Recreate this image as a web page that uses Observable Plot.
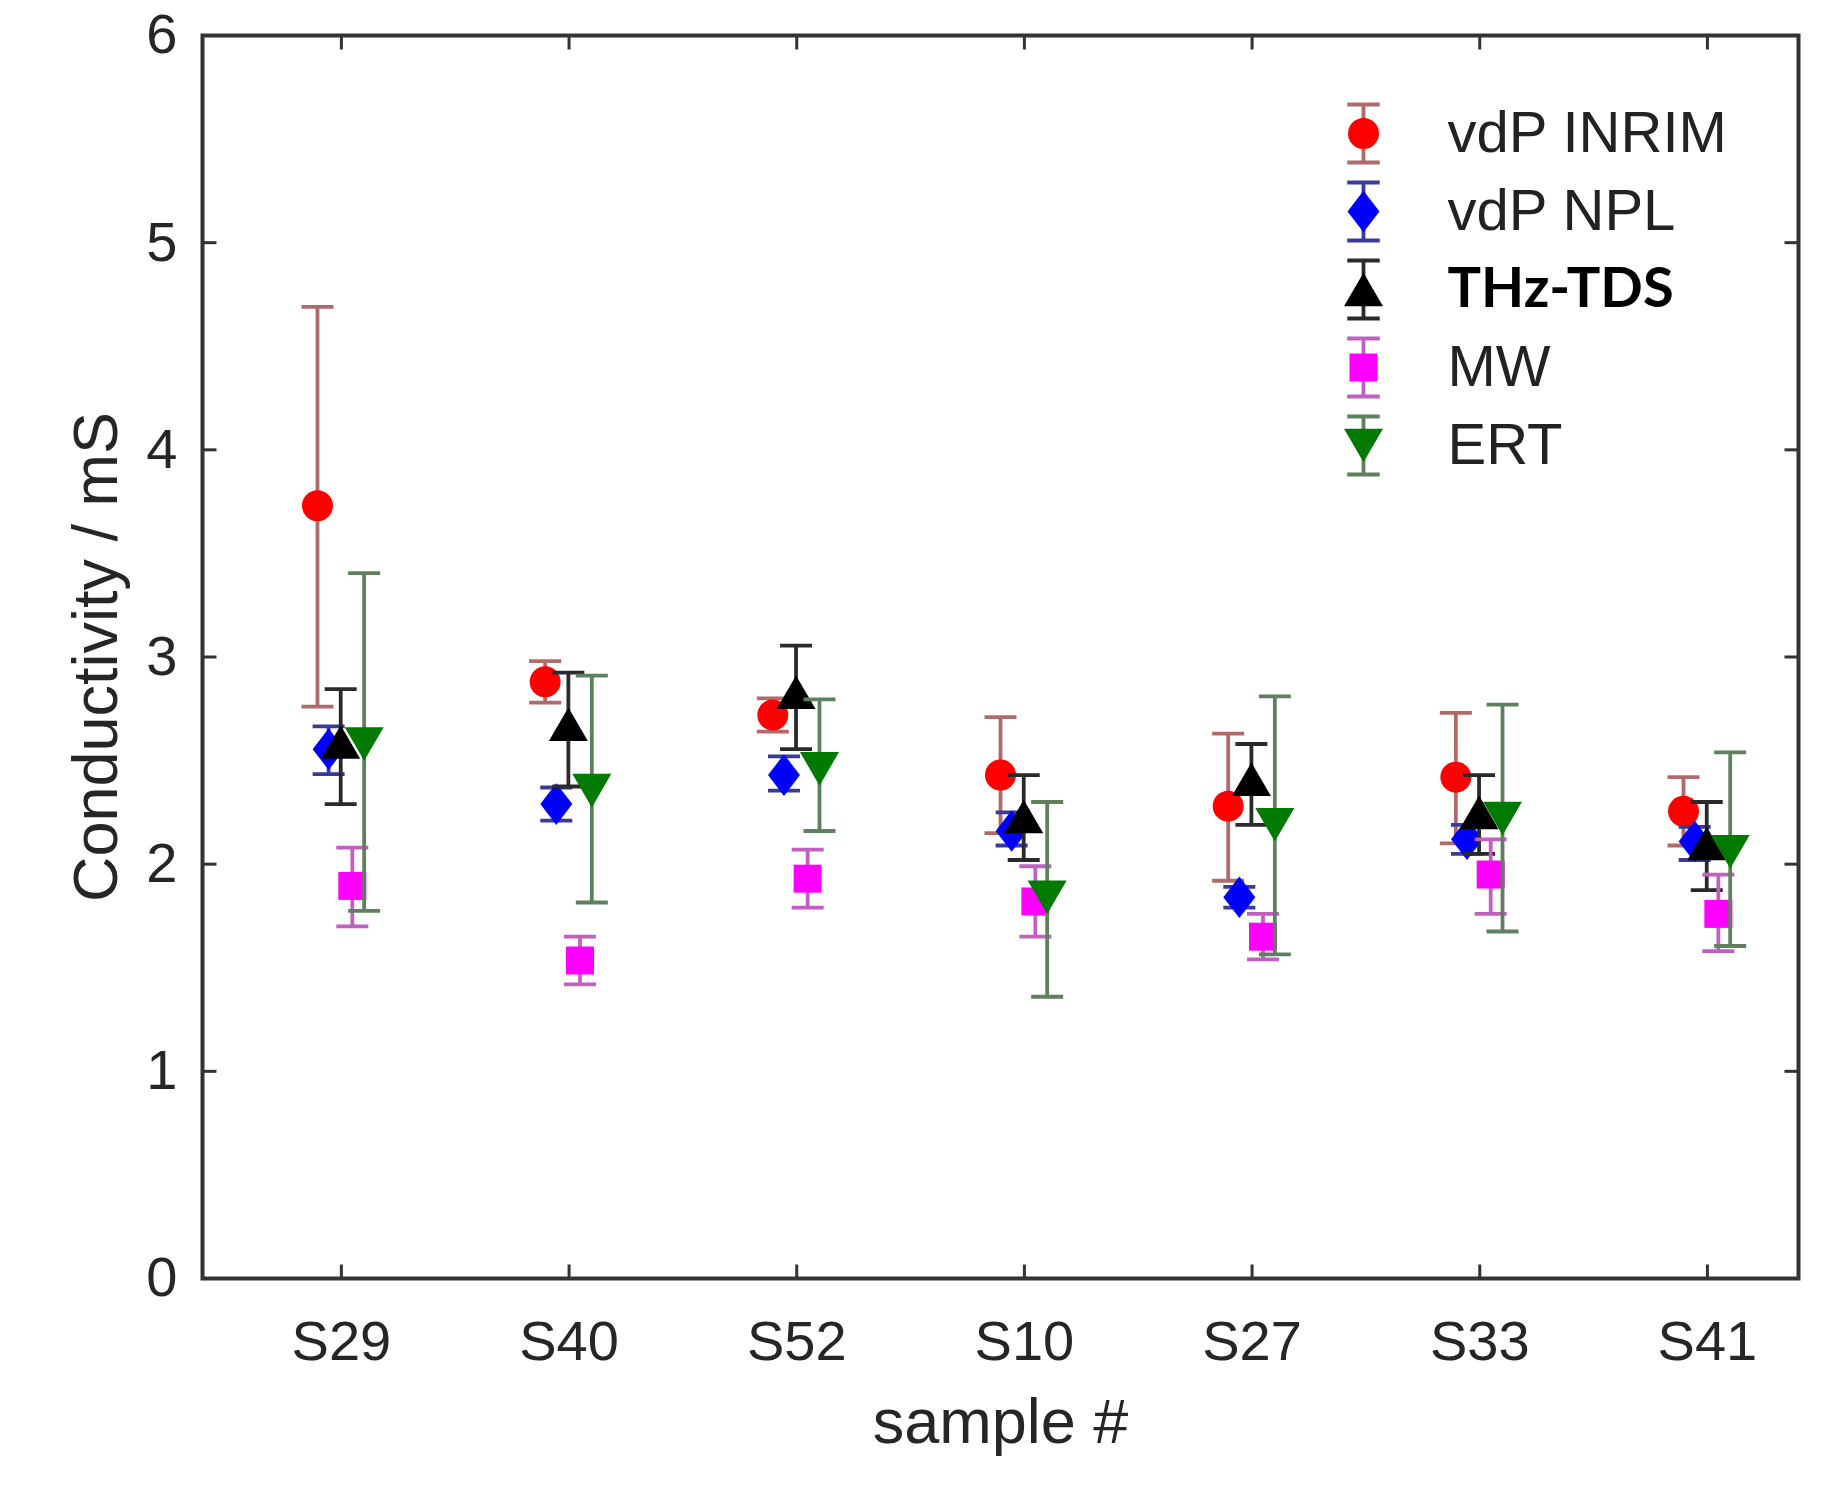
<!DOCTYPE html>
<html>
<head>
<meta charset="utf-8">
<script src="https://cdn.jsdelivr.net/npm/d3@7"></script>
<script src="https://cdn.jsdelivr.net/npm/@observablehq/plot@0.6"></script>
<style>
  html, body { margin: 0; padding: 0; background: #fff; }
  #chart { width: 1845px; height: 1485px; }
</style>
</head>
<body>
<div id="chart"></div>
<script>
// ---------- data ----------
const samples = ["S29", "S40", "S52", "S10", "S27", "S33", "S41"];
const seriesNames = ["vdP INRIM", "vdP NPL", "THz-TDS", "MW", "ERT"];

const inrim   = [3.73, 2.88, 2.72, 2.43, 2.28, 2.42, 2.255];
const inrimLo = [2.76, 2.78, 2.64, 2.15, 1.92, 2.10, 2.09];
const inrimHi = [4.69, 2.98, 2.80, 2.71, 2.63, 2.73, 2.42];

const npl   = [2.555, 2.29, 2.43, 2.16, 1.84, 2.12, 2.11];
const nplLo = [2.435, 2.21, 2.355, 2.09, 1.79, 2.05, 2.02];
const nplHi = [2.665, 2.37, 2.52, 2.25, 1.89, 2.19, 2.18];

const thz   = [2.59, 2.675, 2.83, 2.23, 2.41, 2.25, 2.10];
const thzLo = [2.29, 2.375, 2.555, 2.02, 2.19, 2.05, 1.875];
const thzHi = [2.845, 2.925, 3.055, 2.43, 2.58, 2.43, 2.30];

const mw   = [1.895, 1.535, 1.93, 1.82, 1.65, 1.95, 1.76];
const mwLo = [1.70, 1.42, 1.79, 1.65, 1.54, 1.76, 1.58];
const mwHi = [2.08, 1.65, 2.07, 1.99, 1.76, 2.12, 1.95];

const ert   = [2.58, 2.355, 2.46, 1.84, 2.19, 2.22, 2.06];
const ertLo = [1.775, 1.815, 2.16, 1.36, 1.565, 1.675, 1.605];
const ertHi = [3.405, 2.91, 2.795, 2.30, 2.81, 2.77, 2.54];

const yTicks = [0, 1, 2, 3, 4, 5, 6];
const xTicks = [1, 2, 3, 4, 5, 6, 7];

// ---------- styling ----------
const markerColors = ["#ff0000", "#0000ff", "#000000", "#ff00ff", "#007a00"];
const barColors    = ["#b06a6a", "#3a3a9c", "#2a2a2a", "#c060c0", "#5e805e"];
const xOffsets     = [-0.105, -0.056, -0.003, 0.048, 0.1];

function sym(draw) {
  return { draw(ctx, size) { const r = Math.sqrt(size / Math.PI); draw(ctx, r); } };
}
const circleSym  = sym((c, r) => { c.moveTo(r, 0); c.arc(0, 0, r, 0, 2 * Math.PI); c.closePath(); });
const diamondSym = sym((c, r) => { const h = r * 1.3; c.moveTo(0, -h); c.lineTo(r, 0); c.lineTo(0, h); c.lineTo(-r, 0); c.closePath(); });
const triUpSym   = sym((c, r) => { const h = r * 0.86; c.moveTo(0, -h); c.lineTo(r, h); c.lineTo(-r, h); c.closePath(); });
const triDownSym = sym((c, r) => { const h = r * 0.86; c.moveTo(0, h); c.lineTo(r, -h); c.lineTo(-r, -h); c.closePath(); });
const squareSym  = sym((c, r) => { c.rect(-r, -r, 2 * r, 2 * r); });
const capSym     = sym((c, r) => { c.moveTo(-r, 0); c.lineTo(r, 0); });
const errGlyph   = sym((c, r) => { const w = r * 0.56; c.moveTo(0, -r); c.lineTo(0, r); c.moveTo(-w, -r); c.lineTo(w, -r); c.moveTo(-w, r); c.lineTo(w, r); });
const tickRight  = sym((c, r) => { c.moveTo(0, 0); c.lineTo(r, 0); });
const tickLeft   = sym((c, r) => { c.moveTo(0, 0); c.lineTo(-r, 0); });
const tickUp     = sym((c, r) => { c.moveTo(0, 0); c.lineTo(0, -r); });
const tickDown   = sym((c, r) => { c.moveTo(0, 0); c.lineTo(0, r); });

const markerSyms = [circleSym, diamondSym, triUpSym, squareSym, triDownSym];
const markerR    = [15.5, 16, 19.5, 14, 19.5];

const centers = [inrim, npl, thz, mw, ert];
const lows    = [inrimLo, nplLo, thzLo, mwLo, ertLo];
const highs   = [inrimHi, nplHi, thzHi, mwHi, ertHi];

const X0 = 0.39, X1 = 7.40;

const marks = [];
// inward ticks on all four sides
marks.push(Plot.dot(yTicks, {x: () => X0, y: d => d, symbol: tickRight, r: 14, stroke: "#333", strokeWidth: 3, fill: "none"}));
marks.push(Plot.dot(yTicks, {x: () => X1, y: d => d, symbol: tickLeft, r: 14, stroke: "#333", strokeWidth: 3, fill: "none"}));
marks.push(Plot.dot(xTicks, {x: d => d, y: () => 0, symbol: tickUp, r: 14, stroke: "#333", strokeWidth: 3, fill: "none"}));
marks.push(Plot.dot(xTicks, {x: d => d, y: () => 6, symbol: tickDown, r: 14, stroke: "#333", strokeWidth: 3, fill: "none"}));

seriesNames.forEach((name, k) => {
  const rows = samples.map((s, i) => ({
    sample: s, series: name,
    x: i + 1 + xOffsets[k],
    y: centers[k][i], lo: lows[k][i], hi: highs[k][i]
  }));
  marks.push(Plot.ruleX(rows, {x: "x", y1: "lo", y2: "hi", stroke: barColors[k], strokeWidth: 3.8}));
  marks.push(Plot.dot(rows, {x: "x", y: "lo", symbol: capSym, r: 16, stroke: barColors[k], strokeWidth: 3.8, fill: "none"}));
  marks.push(Plot.dot(rows, {x: "x", y: "hi", symbol: capSym, r: 16, stroke: barColors[k], strokeWidth: 3.8, fill: "none"}));
  marks.push(Plot.dot(rows, {x: "x", y: "y", symbol: markerSyms[k], r: markerR[k], fill: markerColors[k], stroke: "none"}));

  // legend entry
  const ly = 98 + 78 * k;
  marks.push(Plot.dot([name], {frameAnchor: "top-left", dx: 1161, dy: ly, symbol: errGlyph, r: 29, stroke: barColors[k], strokeWidth: 3.8, fill: "none"}));
  marks.push(Plot.dot([name], {frameAnchor: "top-left", dx: 1161, dy: ly, symbol: markerSyms[k], r: markerR[k], fill: markerColors[k], stroke: "none"}));
  const bold = name === "THz-TDS";
  marks.push(Plot.text([name], {
    frameAnchor: "top-left", dx: 1245, dy: ly, text: d => d,
    textAnchor: "start", lineAnchor: "middle",
    fontSize: bold ? 56 : 58,
    fontFamily: bold ? "Lato, 'Open Sans', sans-serif" : "'Liberation Sans', Arial, sans-serif",
    fontWeight: bold ? 700 : 400,
    fill: bold ? "#000" : "#222"
  }));
});

marks.push(Plot.frame({stroke: "#333", strokeWidth: 4}));

marks.push(Plot.axisY({ticks: yTicks, tickFormat: d => String(d), tickSize: 0, tickPadding: 25, fontSize: 56, label: null, fill: "#262626"}));
marks.push(Plot.axisX({ticks: xTicks, tickFormat: d => samples[d - 1], tickSize: 0, tickPadding: 42, fontSize: 56, label: null, fill: "#262626"}));

marks.push(Plot.text(["sample #"], {frameAnchor: "bottom", dy: 144, text: d => d, textAnchor: "middle", lineAnchor: "middle", fontSize: 63, fill: "#262626"}));
marks.push(Plot.text(["Conductivity / mS"], {frameAnchor: "left", dx: -106, rotate: -90, text: d => d, textAnchor: "middle", lineAnchor: "middle", fontSize: 63, fill: "#262626"}));

const chart = Plot.plot({
  width: 1845,
  height: 1485,
  marginLeft: 202,
  marginRight: 47,
  marginTop: 35,
  marginBottom: 207,
  style: {fontFamily: "'Liberation Sans', Arial, sans-serif", background: "#fff", overflow: "visible"},
  x: {type: "linear", domain: [X0, X1], axis: null},
  y: {type: "linear", domain: [0, 6], axis: null},
  marks
});
document.getElementById("chart").appendChild(chart);
</script>
</body>
</html>
